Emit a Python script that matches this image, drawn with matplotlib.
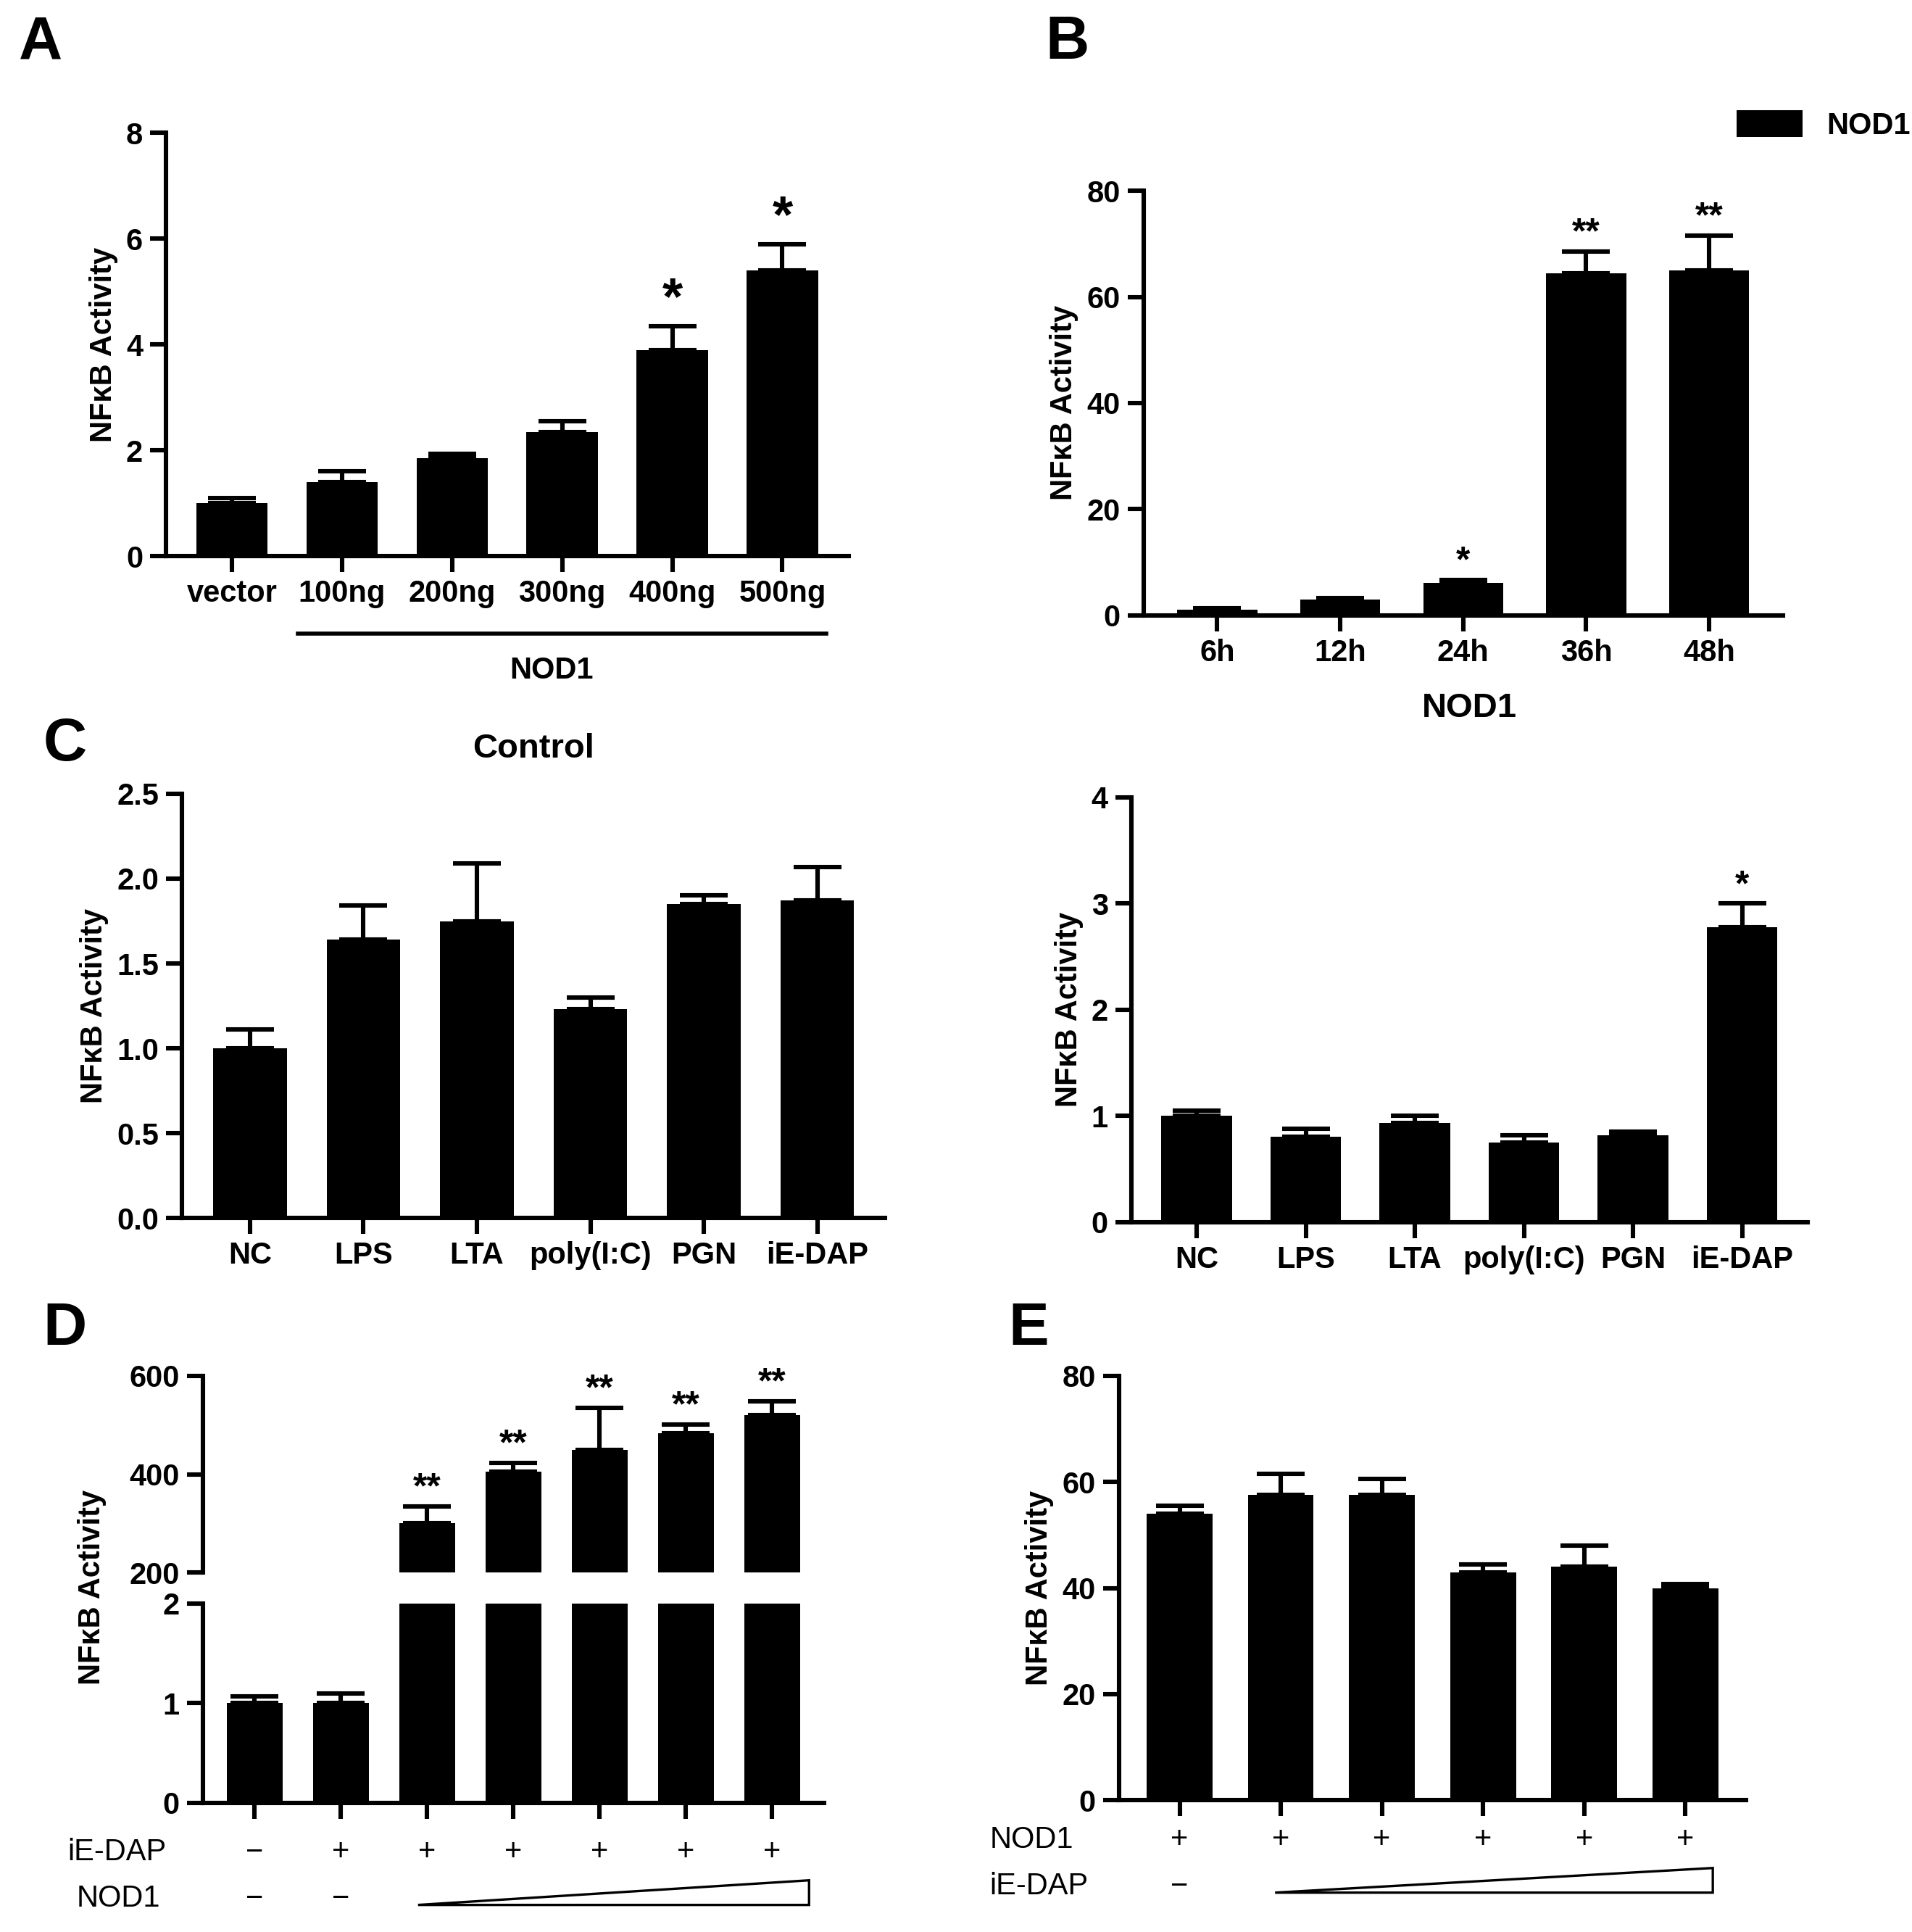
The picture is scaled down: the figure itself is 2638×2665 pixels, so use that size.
import matplotlib
matplotlib.use("Agg")
import matplotlib.pyplot as plt
from matplotlib.patches import Polygon
import matplotlib.transforms as mt

plt.rcParams['font.family'] = ['Liberation Sans', 'DejaVu Sans']
plt.rcParams['font.weight'] = 'bold'
plt.rcParams['axes.labelweight'] = 'bold'

W, H = 1555.0, 1570.0
fig = plt.figure(figsize=(13.19, 13.325), dpi=200)

def box(l, r, t, b):
    return [l / W, 1 - b / H, (r - l) / W, (b - t) / H]

FS = 15

def style(ax):
    for s in ['top', 'right']:
        ax.spines[s].set_visible(False)
    for s in ['left', 'bottom']:
        ax.spines[s].set_linewidth(2.2)
    ax.tick_params(width=2.2, length=8, labelsize=FS)
    for t in ax.get_xticklabels() + ax.get_yticklabels():
        t.set_fontweight('bold')

def bars(ax, vals, errs, width=0.65):
    x = list(range(len(vals)))
    ax.bar(x, vals, width=width, color='black', zorder=2)
    ax.errorbar(x, vals, yerr=[[0]*len(vals), errs], fmt='none', ecolor='black',
                elinewidth=2.2, capsize=12, capthick=2.2, zorder=1)
    ax.set_xlim(-0.6, len(vals) - 0.4)
    return x

def stars(ax, x, tops, labels, off, fs=20):
    for xi, t, lab in zip(x, tops, labels):
        if lab:
            ax.text(xi, t + off, lab, ha='center', va='bottom', fontsize=fs, fontweight='bold')

# Panel A
a_cats = ['vector', '100ng', '200ng', '300ng', '400ng', '500ng']
a_vals = [1.0, 1.4, 1.85, 2.35, 3.9, 5.4]
a_errs = [0.1, 0.2, 0.08, 0.2, 0.45, 0.5]
a_sig = ['', '', '', '', '*', '*']
ax = fig.add_axes(box(135, 690, 108, 452))
x = bars(ax, a_vals, a_errs)
ax.set_ylim(0, 8); ax.set_yticks([0, 2, 4, 6, 8])
ax.set_xticks(x); ax.set_xticklabels(a_cats)
ax.set_ylabel('NFκB Activity', fontsize=FS)
stars(ax, x, [v + e for v, e in zip(a_vals, a_errs)], a_sig, 0.02, 26)
style(ax)
tr = mt.blended_transform_factory(ax.transData, fig.transFigure)
ax.plot([0.6, 5.4], [1 - 515 / H] * 2, color='black', lw=2, transform=tr, clip_on=False)
ax.text(2.9, 1 - 545 / H, 'NOD1', transform=tr, ha='center', va='center', fontsize=FS, fontweight='bold')

# Panel B
b_cats = ['6h', '12h', '24h', '36h', '48h']
b_vals = [1.0, 3.0, 6.1, 64.5, 65.0]
b_errs = [0.3, 0.3, 0.5, 4.0, 6.5]
b_sig = ['', '', '*', '**', '**']
ax = fig.add_axes(box(930, 1450, 155, 500))
x = bars(ax, b_vals, b_errs)
ax.set_ylim(0, 80); ax.set_yticks([0, 20, 40, 60, 80])
ax.set_xticks(x); ax.set_xticklabels(b_cats)
ax.set_ylabel('NFκB Activity', fontsize=FS)
stars(ax, x, [v + e for v, e in zip(b_vals, b_errs)], b_sig, 0.3, 18)
style(ax)
ax.bar([0], [0], color='black', label='NOD1')
leg = ax.legend(loc='center left', bbox_to_anchor=(1390 / W, 1 - 102 / H),
                bbox_transform=fig.transFigure, frameon=False, prop={'size': FS, 'weight': 'bold'},
                handlelength=2.2, handleheight=1.0)

# Panel C
c_cats = ['NC', 'LPS', 'LTA', 'poly(I:C)', 'PGN', 'iE-DAP']
c1_vals = [1.0, 1.64, 1.75, 1.23, 1.85, 1.87]
c1_errs = [0.11, 0.2, 0.34, 0.07, 0.05, 0.2]
c2_vals = [1.0, 0.8, 0.93, 0.75, 0.82, 2.78]
c2_errs = [0.05, 0.08, 0.07, 0.07, 0.03, 0.22]
c2_sig = ['', '', '', '', '', '*']

ax = fig.add_axes(box(148, 720, 645, 990))
x = bars(ax, c1_vals, c1_errs)
ax.set_ylim(0, 2.5); ax.set_yticks([0, 0.5, 1.0, 1.5, 2.0, 2.5])
ax.set_yticklabels(['0.0', '0.5', '1.0', '1.5', '2.0', '2.5'])
ax.set_xticks(x); ax.set_xticklabels(c_cats)
ax.set_ylabel('NFκB Activity', fontsize=FS)
ax.set_title('Control', fontsize=17, fontweight='bold', pad=18)
style(ax)

ax = fig.add_axes(box(920, 1470, 648, 993))
x = bars(ax, c2_vals, c2_errs)
ax.set_ylim(0, 4); ax.set_yticks([0, 1, 2, 3, 4])
ax.set_xticks(x); ax.set_xticklabels(c_cats)
ax.set_ylabel('NFκB Activity', fontsize=FS)
ax.set_title('NOD1', fontsize=17, fontweight='bold', pad=40)
stars(ax, x, [v + e for v, e in zip(c2_vals, c2_errs)], c2_sig, 0.01, 18)
style(ax)

# Panel D
d_vals = [1.0, 1.0, 300, 405, 450, 483, 520]
d_errs = [0.07, 0.1, 35, 18, 85, 18, 28]
d_sig = ['', '', '**', '**', '**', '**', '**']
d_iedap = ['−', '+', '+', '+', '+', '+', '+']
d_nod1 = ['−', '−']
axl = fig.add_axes(box(165, 670, 1303, 1465))
axu = fig.add_axes(box(165, 670, 1118, 1278))
low_vals = [min(v, 2.0) for v in d_vals]
low_errs = [e if v <= 2 else 0 for v, e in zip(d_vals, d_errs)]
x = list(range(len(d_vals)))
axl.bar(x, low_vals, width=0.65, color='black', zorder=2)
for xi, v, e in zip(x, d_vals, d_errs):
    if v <= 2:
        axl.errorbar([xi], [v], yerr=[[0], [e]], fmt='none', ecolor='black', elinewidth=2.2,
                     capsize=12, capthick=2.2, zorder=1)
axl.set_xlim(-0.6, len(d_vals) - 0.4)
axl.set_ylim(0, 2); axl.set_yticks([0, 1, 2])
axl.set_xticks(x); axl.set_xticklabels([''] * len(x))
style(axl)
big = [v if v > 2 else 0 for v in d_vals]
axu.bar(x, big, width=0.65, color='black', zorder=2)
for xi, v, e in zip(x, d_vals, d_errs):
    if v > 2:
        axu.errorbar([xi], [v], yerr=[[0], [e]], fmt='none', ecolor='black', elinewidth=2.2,
                     capsize=12, capthick=2.2, zorder=1)
axu.set_xlim(-0.6, len(d_vals) - 0.4)
axu.set_ylim(200, 600); axu.set_yticks([200, 400, 600])
axu.spines['bottom'].set_visible(False)
axu.set_xticks([])
style(axu)
axu.spines['bottom'].set_visible(False)
stars(axu, x, [v + e for v, e in zip(d_vals, d_errs)], d_sig, 2, 18)
fig.text(75 / W, 1 - 1290 / H, 'NFκB Activity', rotation=90, ha='center', va='center',
         fontsize=FS, fontweight='bold')
tr = mt.blended_transform_factory(axl.transData, fig.transFigure)
fig.text(55 / W, 1 - 1505 / H, 'iE-DAP', ha='left', va='center', fontsize=FS, fontweight='normal')
fig.text(62 / W, 1 - 1543 / H, 'NOD1', ha='left', va='center', fontsize=FS, fontweight='normal')
for xi, s in zip(x, d_iedap):
    axl.text(xi, 1 - 1505 / H, s, transform=tr, ha='center', va='center', fontsize=FS, fontweight='normal')
for xi, s in zip(x, d_nod1):
    axl.text(xi, 1 - 1543 / H, s, transform=tr, ha='center', va='center', fontsize=FS, fontweight='normal')
fig.patches.append(Polygon([[340 / W, 1 - 1548 / H], [658 / W, 1 - 1548 / H], [658 / W, 1 - 1528 / H]],
                           closed=True, fill=False, edgecolor='black', lw=1.2, transform=fig.transFigure))

# Panel E
e_vals = [54, 57.5, 57.5, 43, 44, 40]
e_errs = [1.5, 4.0, 3.0, 1.5, 4.0, 0.7]
e_nod1 = ['+'] * 6
e_iedap = ['−']
ax = fig.add_axes(box(910, 1420, 1118, 1463))
x = bars(ax, e_vals, e_errs)
ax.set_ylim(0, 80); ax.set_yticks([0, 20, 40, 60, 80])
ax.set_xticks(x); ax.set_xticklabels([''] * len(x))
ax.set_ylabel('NFκB Activity', fontsize=FS)
style(ax)
tr = mt.blended_transform_factory(ax.transData, fig.transFigure)
fig.text(805 / W, 1 - 1495 / H, 'NOD1', ha='left', va='center', fontsize=FS, fontweight='normal')
fig.text(805 / W, 1 - 1533 / H, 'iE-DAP', ha='left', va='center', fontsize=FS, fontweight='normal')
for xi, s in zip(x, e_nod1):
    ax.text(xi, 1 - 1495 / H, s, transform=tr, ha='center', va='center', fontsize=FS, fontweight='normal')
for xi, s in zip(x, e_iedap):
    ax.text(xi, 1 - 1533 / H, s, transform=tr, ha='center', va='center', fontsize=FS, fontweight='normal')
fig.patches.append(Polygon([[1037 / W, 1 - 1538 / H], [1393 / W, 1 - 1538 / H], [1393 / W, 1 - 1518 / H]],
                           closed=True, fill=False, edgecolor='black', lw=1.2, transform=fig.transFigure))

# Panel letters
for lab, px, py in [('A', 15, 35), ('B', 850, 35), ('C', 35, 605), ('D', 35, 1080), ('E', 820, 1080)]:
    fig.text(px / W, 1 - py / H, lab, ha='left', va='center', fontsize=30, fontweight='bold')

fig.savefig('out.png', dpi=200)
